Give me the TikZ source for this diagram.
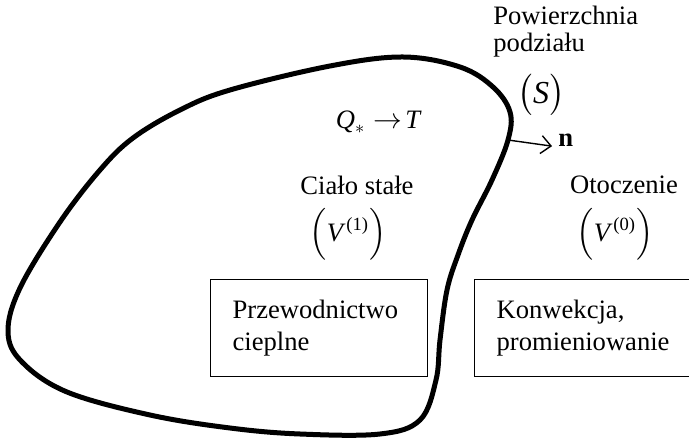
\documentclass[tikz,border=0pt]{standalone}
\usepackage{amsmath}
\usepackage{fontspec}
\setmainfont{Liberation Serif}
\usetikzlibrary{arrows.meta,positioning}

\tikzset{
	lbl/.style={font=\fontsize{13.3}{13.5}\selectfont, inner sep=0pt},
	procbox/.style={lbl, font=\fontsize{13.3}{16}\selectfont, draw, line width=0.65pt, anchor=north west, align=left, minimum height=48.5pt, inner xsep=11pt},
	surface/.style={line width=2.5pt, line join=round},
}

\begin{document}
\begin{tikzpicture}[x=0.5pt, y=-0.5pt]
	\useasboundingbox (0,0) rectangle (689,442);
	\clip (0,0) rectangle (689,442);
	
	% cialo stale
	\draw[surface] plot[smooth cycle, tension=0.6] coordinates {
		(403,57) (460,67) (493,87) (510,112) (508,140) (492,180) (472,220)
		(458,255) (447,290) (440,340) (436,380) (420,420) (380,434) (300,434)
		(230,428) (150,415) (67,392) (22,362) (8,332) (20,288) (60,222)
		(100,170) (133,138) (180,110) (230,90) (330,66)};
	
	\node[lbl, anchor=north west, align=left] (pow) at (493,6) {Powierzchnia\\podziału};
	\node[lbl, font=\fontsize{16}{16}\selectfont] (S) at (541,95) {$\bigl(\textit{S}\bigr)$};
	
	\node[lbl] (QT) at (378,122) {$\textit{Q}_{*}\rightarrow\!\textit{T}$};
	
	\coordinate (nbase) at (508,140);
	\node[lbl, anchor=base west, font=\fontsize{13.3}{13.5}\selectfont\bfseries] (n) at (558,147) {n};
	\draw[line width=0.7pt, shorten >=3pt, -{Straight Barb[length=5pt, width=9pt]}] (nbase) -- (n.base west);
	
	\node[lbl] (cialo) at (357,185) {Ciało stałe};
	\node[lbl] (V1) at (348,234) {$\Bigl(\textit{V}^{\,\text{(1)}}\Bigr)$};
	
	\node[lbl] (otocz) at (624,185) {Otoczenie};
	\node[lbl] (V0) at (615,234) {$\Bigl(\textit{V}^{\,\text{(0)}}\Bigr)$};
	
	\node[procbox, text width=86.5pt] (przew) at (210,279) {Przewodnictwo\\cieplne};
	\node[procbox, text width=111pt] (konw) at (474,279) {Konwekcja,\\promieniowanie};
\end{tikzpicture}
\end{document}
